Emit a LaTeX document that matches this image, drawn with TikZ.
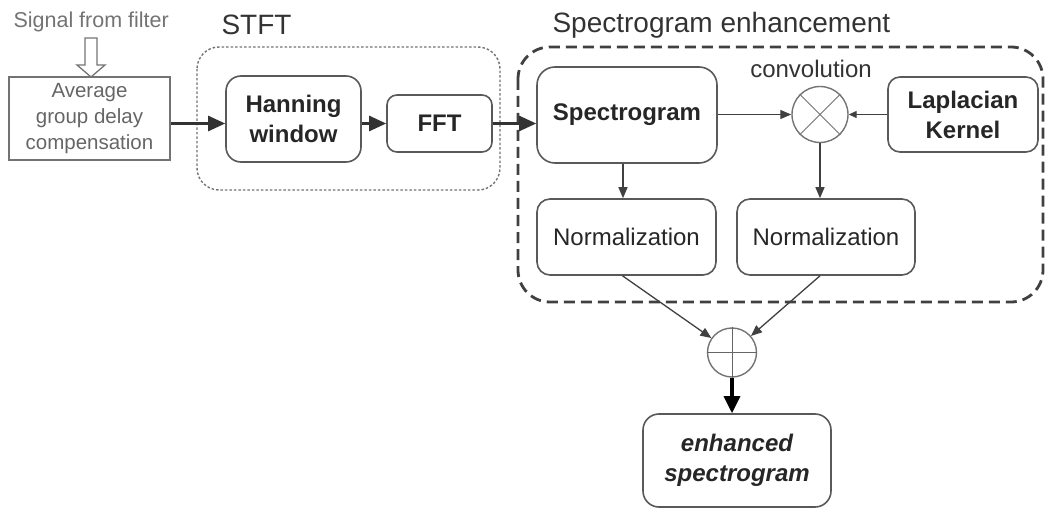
\documentclass[tikz,border=0pt]{standalone}
\usepackage{fontspec}
\setmainfont{Liberation Sans}
\usetikzlibrary{arrows.meta}

\begin{document}
\begin{tikzpicture}[x=1pt,y=-1pt,
  blk/.style={draw=black!65, line width=1.6pt, rounded corners=13pt, align=center,
              inner sep=0pt, text=black!85, font=\fontsize{24}{29}\selectfont},
  blkbold/.style={blk, font=\fontsize{24}{30}\selectfont\bfseries},
  opcircle/.style={circle, draw=black!55, line width=1.4pt, inner sep=0pt},
  title/.style={anchor=base west, text=black!80, font=\fontsize{28}{30}\selectfont},
  mainarrow/.style={line width=2.6pt, draw=black!80, -{Triangle[length=17pt,width=15pt]}},
  thinarrow/.style={line width=1.3pt, draw=black!75, -{Triangle[length=11pt,width=9pt]}},
  stftframe/.style={draw=black!55, line width=1.4pt, dash pattern=on 2.5pt off 2pt, rounded corners=22pt},
  enhframe/.style={draw=black!75, line width=2.8pt, dash pattern=on 11pt off 6pt, rounded corners=32pt}]

\useasboundingbox (0,0) rectangle (1045,508);

% group frames and their titles
\draw[stftframe] (197,47) rectangle (500,190);
\draw[enhframe] (518,47) rectangle (1043,302);
\node[title] (stftlabel) at (218,35) {STFT};
\node[title] (enhlabel) at (549,33) {Spectrogram enhancement};

% input
\node[anchor=base west, text=black!55, font=\fontsize{21.5}{24}\selectfont] (src) at (10,28) {Signal from filter};
\node[blk, sharp corners, draw=black!55, text=black!60, minimum width=161pt, minimum height=83pt,
      font=\fontsize{20.5}{26}\selectfont] (avg) at (89.5,118.5) {Average\\group delay\\compensation};
% hollow block arrow into the compensation stage
\draw[draw=black!55, line width=1.3pt, line join=miter]
  (85,38) -- (97,38) -- (97,65) -- (105,65) -- (91,77) -- (77,65) -- (85,65) -- cycle;

% STFT stage
\node[blkbold, minimum width=135pt, minimum height=86pt, rounded corners=15pt] (hann) at (293.5,119) {Hanning\\window};
\node[blkbold, minimum width=105pt, minimum height=57pt, rounded corners=10pt] (fft) at (439.5,123.5) {FFT};

% enhancement stage
\node[blkbold, minimum width=180pt, minimum height=96pt, rounded corners=18pt] (spec) at (627,115) {Spectrogram};
\node[opcircle, minimum size=56pt] (conv) at (820,114.5) {};
\draw[black!55, line width=1pt] (conv.north east) -- (conv.south west) (conv.north west) -- (conv.south east);
\node[anchor=base, text=black!80, font=\fontsize{24}{26}\selectfont] (convlabel) at (811,78) {convolution};
\node[blkbold, minimum width=150pt, minimum height=75pt, rounded corners=12pt] (lap) at (963,114.5) {Laplacian\\Kernel};
\node[blk, minimum width=179pt, minimum height=76pt] (norm1) at (626.5,237) {Normalization};
\node[blk, minimum width=178pt, minimum height=76pt] (norm2) at (826,237) {Normalization};

% summation and result
\node[opcircle, minimum size=49pt] (sum) at (732,352.5) {};
\draw[black!60, line width=1pt] (sum.north) -- (sum.south) (sum.west) -- (sum.east);
\node[blk, minimum width=188pt, minimum height=93pt, rounded corners=16pt,
      font=\fontsize{24}{30}\selectfont\bfseries\itshape] (enh) at (737,460.5) {enhanced\\spectrogram};

% signal flow
\draw[mainarrow] (avg.east |- fft) -- (hann.west |- fft);
\draw[mainarrow] (hann.east |- fft) -- (fft.west);
\draw[mainarrow] (fft.east) -- (spec.west |- fft);
\draw[thinarrow] (spec.east |- conv) -- (conv.west);
\draw[thinarrow, -{Triangle[length=8pt,width=7pt]}] (lap.west |- conv) -- (conv.east);
\draw[thinarrow] ([xshift=-4pt]spec.south) -- ([xshift=-4pt]spec.south |- norm1.north);
\draw[thinarrow] (conv.south) -- (conv |- norm2.north);
\draw[thinarrow] ([xshift=-4pt]norm1.south) -- (sum);
\draw[thinarrow] (conv |- norm2.south) -- (sum);
\draw[line width=3.2pt, draw=black, -{Triangle[length=17pt,width=16pt]}] (sum.south) -- (sum |- enh.north);

\end{tikzpicture}
\end{document}
